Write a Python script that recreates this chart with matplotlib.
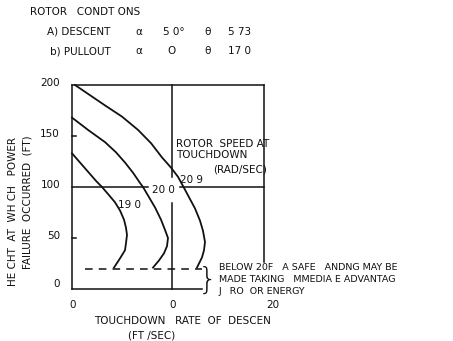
import matplotlib.pyplot as plt

# -------------------------------------------------------------------
# touchdown rate of descent vs height of power failure
# -------------------------------------------------------------------

# rotor speed at touchdown (rad/sec) curves
curve_labels = ['19 0', '20 0', '20 9']

rate_190 = [0.0, 0.8, 1.6, 2.4, 3.0, 3.7, 4.3, 4.8, 5.2, 5.4, 5.5, 5.4, 5.3, 4.8, 4.2]
height_190 = [133, 124, 115, 106, 100, 92, 85, 77, 68, 60, 53, 45, 38, 30, 21]

rate_200 = [0.0, 1.6, 3.3, 4.4, 5.3, 6.1, 6.8, 7.1, 7.7, 8.3, 8.9, 9.3, 9.6, 9.5, 9.2, 8.7, 8.1]
height_200 = [168, 156, 144, 134, 124, 114, 104, 100, 90, 80, 68, 58, 50, 42, 35, 28, 21]

rate_209 = [0.3, 1.8, 3.3, 5.0, 6.6, 7.9, 9.0, 9.9, 10.6, 11.1, 11.7, 12.3, 12.8, 13.1, 13.3, 13.2, 13.0, 12.5]
height_209 = [200, 190, 180, 169, 156, 143, 129, 119, 110, 101, 90, 79, 67, 57, 46, 38, 31, 21]

yticks = [0, 50, 100, 150, 200]
ytick_labels = ['0', '50', '100', '150', '200']
xticks = [0, 10, 20]
xtick_labels = ['0', '0', '20']

safe_height = 20

W, H = 453, 341
fig = plt.figure(figsize=(W / 100, H / 100), dpi=100)
fig.patch.set_facecolor('white')
plt.rcParams['font.family'] = ['DejaVu Sans']

ax = fig.add_axes([72 / W, (H - 289) / H, 200 / W, 204 / H])
ax.set_xlim(0, 20)
ax.set_ylim(0, 200)
ax.axis('off')

ink = '#111111'
lw = 1.1

# frame lines (hand drawn, right edge stops short)
ax.plot([0, 19.2], [200, 200], color=ink, lw=lw, clip_on=False)
ax.plot([0, 0], [0, 200], color=ink, lw=lw, clip_on=False)
ax.plot([0, 13.0], [0, 0], color=ink, lw=lw, clip_on=False)
ax.plot([19.2, 19.2], [26, 200], color=ink, lw=lw, clip_on=False)
ax.plot([10, 10], [110, 200], color=ink, lw=lw, clip_on=False)
ax.plot([10, 10], [0, 84], color=ink, lw=lw, clip_on=False)
ax.plot([0, 7.6], [100, 100], color=ink, lw=lw, clip_on=False)
ax.plot([10.8, 19.2], [100, 100], color=ink, lw=lw, clip_on=False)

# small ticks on the height axis
for v in [50, 150]:
    ax.plot([0, 0.4], [v, v], color=ink, lw=lw, clip_on=False)

# safe height dashed line
ax.plot([1.3, 13.0], [safe_height, safe_height], color=ink, lw=lw,
        linestyle=(0, (5, 4)), clip_on=False)

ax.plot(rate_190, height_190, color=ink, lw=1.3, clip_on=False)
ax.plot(rate_200, height_200, color=ink, lw=1.3, clip_on=False)
ax.plot(rate_209, height_209, color=ink, lw=1.3, clip_on=False)

fs = 7.5
ax.text(5.8, 82, curve_labels[0], fontsize=fs, ha='center', va='center', color=ink)
ax.text(9.1, 97, curve_labels[1], fontsize=fs, ha='center', va='center', color=ink)
ax.text(11.9, 107, curve_labels[2], fontsize=fs, ha='center', va='center', color=ink)

ax.text(10.4, 142, 'ROTOR  SPEED AT', fontsize=fs, ha='left', va='center', color=ink)
ax.text(10.4, 131, 'TOUCHDOWN', fontsize=fs, ha='left', va='center', color=ink)
ax.text(14.1, 117, '(RAD/SEC)', fontsize=fs, ha='left', va='center', color=ink)

# tick labels
for v, lab in zip(yticks, ytick_labels):
    off = 5 if v == 0 else 2
    ax.text(-1.2, v + off, lab, fontsize=fs, ha='right', va='center', color=ink)
for v, lab in zip(xticks, xtick_labels):
    ax.text(v + 0.1, -16, lab, fontsize=fs, ha='center', va='center', color=ink)

# axis titles
fig.text(182 / W, 1 - 321 / H, 'TOUCHDOWN   RATE  OF  DESCEN', fontsize=fs,
         ha='center', va='center', color=ink)
fig.text(152 / W, 1 - 335 / H, '(FT /SEC)', fontsize=fs,
         ha='center', va='center', color=ink)
fig.text(13 / W, 1 - 211 / H, 'HE CHT  AT  WH CH   POWER', fontsize=fs,
         rotation=90, ha='center', va='center', color=ink)
fig.text(28 / W, 1 - 202 / H, 'FAILURE  OCCURRED  (FT)', fontsize=fs,
         rotation=90, ha='center', va='center', color=ink)

# rotor conditions header, one piece per column
fig.text(30 / W, 1 - 12 / H, 'ROTOR   CONDT ONS', fontsize=fs,
         ha='left', va='center', color=ink)
row_a = [('A) DESCENT', 47), ('\u03b1', 135), ('5 0\u00b0', 163), ('\u03b8', 204), ('5 73', 228)]
row_b = [('b) PULLOUT', 50), ('\u03b1', 135), ('O', 167), ('\u03b8', 204), ('17 0', 228)]
for txt, px in row_a:
    fig.text(px / W, 1 - 32 / H, txt, fontsize=fs, ha='left', va='center', color=ink)
for txt, px in row_b:
    fig.text(px / W, 1 - 51 / H, txt, fontsize=fs, ha='left', va='center', color=ink)

# note about the safe zone
fig.text(208 / W, 1 - 280 / H, '}', fontsize=22, ha='center', va='center',
         color=ink, fontweight='light')
fig.text(219 / W, 1 - 267 / H, 'BELOW 20F   A SAFE   ANDNG MAY BE', fontsize=6.8,
         ha='left', va='center', color=ink)
fig.text(219 / W, 1 - 279 / H, 'MADE TAKING   MMEDIA E ADVANTAG', fontsize=6.8,
         ha='left', va='center', color=ink)
fig.text(219 / W, 1 - 291 / H, 'J   RO  OR ENERGY', fontsize=6.8,
         ha='left', va='center', color=ink)

plt.savefig('out.png', dpi=100)
